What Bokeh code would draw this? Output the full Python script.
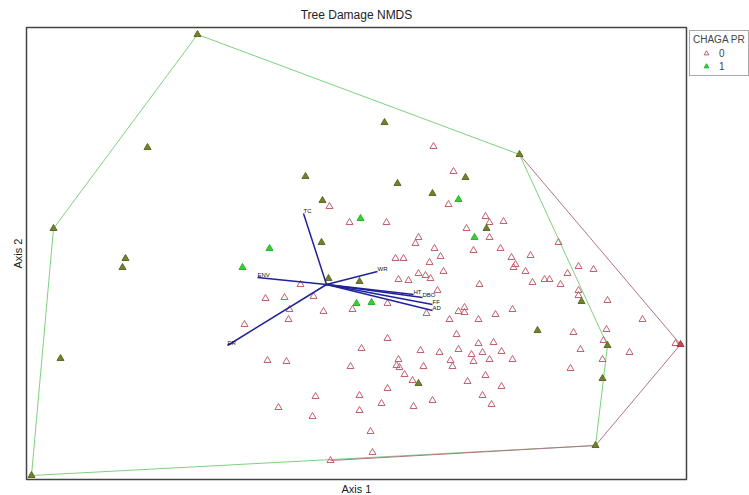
from bokeh.plotting import figure
from bokeh.models import Range1d, Legend, LegendItem, FixedTicker, ColumnDataSource
from bokeh.embed import file_html
from bokeh.resources import INLINE
from bokeh.core.properties import value

# ---- NMDS scores, CHAGA PR = 0 ----
g0_x = [-0.28, -0.08, 0.29, 0.91, 0.76, 0.96, 1.28, 1.32, 1.46, 1.09,
        1.32, 0.61, 0.58, 0.77, 1.16, 1.43, 2.01, 0.83, 1.54, 1.73,
        0.38, 0.46, 0.72, 0.86, 0.61, 0.68, 0.73, 0.41, 0.51, 1.58,
        1.56, 1.68, 2.10, 2.21, 2.36, 1.87, 1.92, 1.75, 2.03, 1.22,
        0.80, 2.21, 2.21, 2.50, -0.57, -0.92, -0.73, -0.44, -0.68, -0.34,
        -0.69, -1.13, 0.30, -0.05, 0.69, 1.01, 1.07, 1.07, 1.55, 1.38,
        0.92, 1.21, 2.85, 0.99, 0.30, 2.16, 2.49, 2.46, 1.21, 1.36,
        0.04, 0.63, 0.82, 1.01, 1.25, 1.44, 2.23, 2.72, 3.18, 0.41,
        0.93, 1.14, 1.16, 1.32, 1.55, 2.45, -0.07, 0.39, 0.42, 0.66,
        0.95, 2.13, 0.47, 1.28, 0.55, 1.10, 0.30, 1.44, 0.02, 0.75,
        1.25, 0.24, 0.56, 1.34, 0.02, 0.13, 0.15, -0.27, -0.90, -0.71,
        -0.42, -0.79, -0.45]
g0_y = [0.47, 0.31, 0.31, 0.49, 1.07, 0.82, 0.37, 0.31, 0.32, 0.25,
        0.16, 0.16, 0.10, 0.05, 0.03, 0.05, 0.11, -0.03, -0.04, -0.02,
        -0.05, -0.05, -0.09, -0.18, -0.20, -0.22, -0.25, -0.26, -0.27, -0.11,
        -0.14, -0.18, -0.20, -0.13, -0.16, -0.26, -0.26, -0.29, -0.31, -0.31,
        -0.37, -0.37, -0.42, -0.47, -0.31, -0.45, -0.44, -0.43, -0.56, -0.58,
        -0.66, -0.71, -0.50, -0.56, -0.60, -0.58, -0.54, -0.59, -0.56, -0.61,
        -0.66, -0.66, -0.66, -0.81, -0.85, -0.79, -0.76, -0.87, -0.90, -0.89,
        -0.95, -0.97, -0.99, -0.96, -0.99, -0.98, -0.96, -0.99, -0.90, -1.06,
        -1.07, -1.01, -1.08, -1.06, -1.06, -1.06, -1.13, -1.12, -1.14, -1.13,
        -1.13, -1.15, -1.21, -1.22, -1.27, -1.28, -1.35, -1.33, -1.42, -1.47,
        -1.42, -1.50, -1.53, -1.51, -1.57, -1.78, -1.99, -2.07, -1.07, -1.08,
        -1.43, -1.54, -1.63]
# group-0 hull vertex drawn filled
g0_hi_x = [3.23]
g0_hi_y = [-0.91]

# ---- NMDS scores, CHAGA PR = 1 ----
g1_dark_x = [-1.60, -2.10, -3.04, -2.32, -2.35, -2.97, -3.26, 0.27, 1.62, 0.40,
             0.75, 1.08, -0.52, -0.35, -0.36, -0.29, 0.02, 1.29, 1.80, 2.24,
             2.50, 2.45, 0.61, 2.38]
g1_dark_y = [2.19, 1.06, 0.25, -0.05, -0.14, -1.05, -2.22, 1.31, 0.99, 0.70,
             0.60, 0.76, 0.77, 0.53, 0.11, -0.25, -0.28, 0.25, -0.77, -0.48,
             -0.92, -1.25, -1.30, -1.92]
g1_light_x = [-0.88, -1.15, 0.03, 1.01, 1.17, -0.01, 0.14]
g1_light_y = [0.05, -0.14, 0.35, 0.54, 0.16, -0.50, -0.49]

# ---- convex hulls ----
hull1_x = [-1.60, 1.62, 2.50, 2.38, -3.26, -3.04]
hull1_y = [2.19, 0.99, -0.92, -1.92, -2.22, 0.25]
hull0_x = [1.62, 3.23, 2.38, -0.27]
hull0_y = [0.99, -0.91, -1.92, -2.07]

# ---- biplot vectors ----
vec_origin = (-0.31, -0.31)
vec_names = ["TC", "ENV", "WR", "ER", "HT", "DBO", "FF", "AD"]
vec_x = [-0.54, -1.00, 0.20, -1.30, 0.56, 0.65, 0.75, 0.75]
vec_y = [0.40, -0.24, -0.18, -0.92, -0.41, -0.44, -0.51, -0.57]

FONT = "Liberation Sans"

p = figure(frame_width=660, frame_height=452,
           x_range=Range1d(-3.31, 3.29), y_range=Range1d(-2.26, 2.26),
           output_backend="svg", toolbar_location=None,
           min_border_left=26, min_border_right=63,
           min_border_top=26, min_border_bottom=17,
           title="Tree Damage NMDS")
p.title.align = "center"
p.title.text_font = FONT
p.title.text_font_size = "12px"
p.title.text_font_style = "normal"
p.title.text_color = "#222222"
p.title.standoff = 11
p.grid.visible = False
p.outline_line_color = "#444444"
p.outline_line_width = 1.5
p.background_fill_color = "white"
p.border_fill_color = "white"

for ax, lab in ((p.xaxis[0], "Axis 1"), (p.yaxis[0], "Axis 2")):
    ax.ticker = FixedTicker(ticks=[])
    ax.axis_label = lab
    ax.axis_line_color = None
    ax.major_tick_line_color = None
    ax.minor_tick_line_color = None
    ax.major_tick_out = 0
    ax.major_tick_in = 0
    ax.major_label_standoff = 0
    ax.axis_label_standoff = 3
    ax.axis_label_text_font = FONT
    ax.axis_label_text_font_size = "11px"
    ax.axis_label_text_font_style = "normal"
    ax.axis_label_text_color = "#222222"

# hulls
p.patch(hull1_x, hull1_y, fill_color=None, line_color="#7fd07f", line_width=1)
p.line(hull0_x, hull0_y, line_color="#b07585", line_width=1)

# points
r0 = p.scatter(g0_x, g0_y, marker="triangle", size=7, fill_color="white",
               fill_alpha=0.0, line_color="#c0606e", line_width=1)
p.scatter(g0_hi_x, g0_hi_y, marker="triangle", size=7, fill_color="#d04050",
          line_color="#b03040", line_width=1)
p.scatter(g1_dark_x, g1_dark_y, marker="triangle", size=7, fill_color="#72822c",
          line_color="#5e6b24", line_width=1)
r1 = p.scatter(g1_light_x, g1_light_y, marker="triangle", size=7,
               fill_color="#36d036", line_color="#2ab52a", line_width=1)

# vectors
vsrc = ColumnDataSource(dict(x0=[vec_origin[0]] * len(vec_x), y0=[vec_origin[1]] * len(vec_y),
                             x1=vec_x, y1=vec_y, name=vec_names))
p.segment(x0="x0", y0="y0", x1="x1", y1="y1", source=vsrc,
          line_color="#1f2299", line_width=1.5)
p.text(x="x1", y="y1", text="name", source=vsrc, text_font=value(FONT),
       text_font_size="6px", text_color="#111111", text_align="left",
       text_baseline="bottom", x_offset=0, y_offset=0)

legend = Legend(items=[LegendItem(label="0", renderers=[r0]),
                       LegendItem(label="1", renderers=[r1])],
                title="CHAGA PR", location="top_left")
legend.title_text_font = FONT
legend.title_text_font_size = "10px"
legend.title_text_font_style = "normal"
legend.title_standoff = 2
legend.label_text_font = FONT
legend.label_text_font_size = "10px"
legend.glyph_width = 26
legend.glyph_height = 12
legend.label_height = 12
legend.label_width = 26
legend.label_standoff = 0
legend.spacing = 1
legend.padding = 3
legend.margin = 3
legend.border_line_color = "#555555"
legend.border_line_width = 1
legend.background_fill_color = "white"
p.add_layout(legend, "right")

open("out.html", "w").write(file_html(p, INLINE))
